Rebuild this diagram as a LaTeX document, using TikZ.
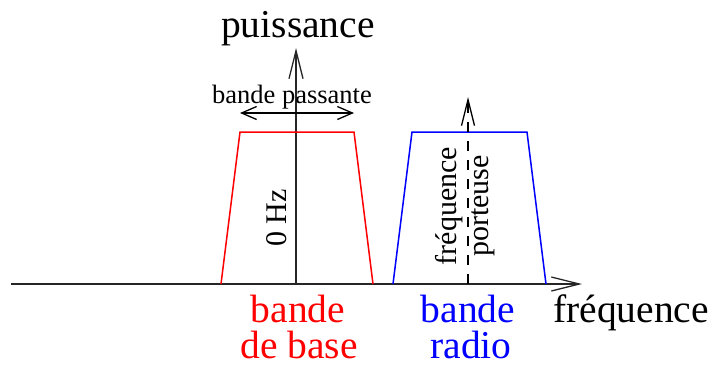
\documentclass[tikz,border=0pt]{standalone}
\usepackage{fontspec}
\setmainfont{Liberation Serif}
\usetikzlibrary{arrows.meta}
\begin{document}
\begin{tikzpicture}[x=1pt,y=-1pt,
  axis/.style={line width=1.7pt, draw=black!85, -{Straight Barb[length=28pt,width=14pt,line width=1.3pt]}},
  carrier/.style={line width=1.4pt, draw=black, dash pattern=on 10pt off 9pt, -{Straight Barb[length=26pt,width=13pt,line width=1.3pt,sep=0pt]}},
  passband/.style={line width=1.3pt, draw=black, {Straight Barb[length=15pt,width=13pt,line width=1.3pt]}-{Straight Barb[length=15pt,width=13pt,line width=1.3pt]}},
  big/.style={font=\fontsize{39.5}{44}\selectfont, inner sep=0pt},
  mid/.style={font=\fontsize{30}{34}\selectfont, inner sep=0pt},
  small/.style={font=\fontsize{26.5}{30}\selectfont, inner sep=0pt},
  band/.style={line width=1.5pt}]
\useasboundingbox (0,0) rectangle (715,365);

% axes
\coordinate (xstart) at (11,284);
\coordinate (xend) at (582,284);
\coordinate (origin) at (296,284);
\coordinate (ytop) at (296,48);
\draw[axis] (xstart) -- (xend);
\draw[axis] (origin) -- (ytop);

% base band (red)
\draw[band, red] (221,284) -- (240,132) -- (354,132) -- (373,284);
% radio band (blue)
\draw[band, blue] (393,284) -- (412,132) -- (527,132) -- (546,284);

% carrier dashed arrow
\coordinate (cbase) at (468,284);
\coordinate (ctop) at (468,97);
\draw[carrier] (cbase) -- (ctop);

% pass band arrow
\coordinate (pbl) at (240,113);
\coordinate (pbr) at (354,113);
\draw[passband] (pbl) -- (pbr);

% labels
\node[big, anchor=base] (puissance) at (298,37) {puissance};
\node[small, anchor=base] (bp) at (292,103) {bande passante};
\node[mid, rotate=90] (hz) at (277,218) {0 Hz};
\node[mid, rotate=90] (freq) at (449,206) {fréquence};
\node[mid, rotate=90] (port) at (483,206) {porteuse};
\node[big, anchor=base west] (fx) at (553,322) {fréquence};
\node[big, anchor=base, red] (bb1) at (298,322) {bande};
\node[big, anchor=base, red] (bb2) at (299,358) {de base};
\node[big, anchor=base, blue] (br1) at (468,322) {bande};
\node[big, anchor=base, blue] (br2) at (471,358) {radio};
\end{tikzpicture}
\end{document}
